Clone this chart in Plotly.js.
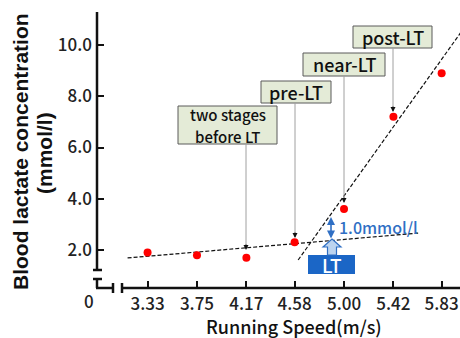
<!DOCTYPE html>
<html>
<head>
<meta charset="utf-8">
<script src="https://cdn.plot.ly/plotly-3.0.1.min.js"></script>
<style>html,body{margin:0;padding:0;background:#fff;}#chart{width:460px;height:338px;}</style>
</head>
<body>
<div id="chart"></div>
<script>
// ---- data ----
const speeds = [3.33, 3.75, 4.17, 4.58, 5.00, 5.42, 5.83];
const speedLabels = ['3.33', '3.75', '4.17', '4.58', '5.00', '5.42', '5.83'];
const lactate = [1.9, 1.8, 1.7, 2.3, 3.6, 7.2, 8.9];
const yTickVals = [2, 4, 6, 8, 10];
const yTickLabels = ['2.0', '4.0', '6.0', '8.0', '10.0'];
const lowFitX = [3.16, 5.63];
const lowFitY = [1.69, 2.66];
const highFitX = [4.61, 5.99];
const highFitY = [1.61, 10.47];
const stageLabels = [['two stages', 'before LT'], ['pre-LT'], ['near-LT'], ['post-LT']];
const stageIndex = [2, 3, 4, 5];
const ltLabel = 'LT';
const deltaLabel = '1.0mmol/l';

// ---- layout helpers (pixel -> paper) ----
const W = 460, H = 338, L = 97, R = 460, T = 12, B = 288;
const fx = p => (p - L) / (R - L);
const fy = p => (B - p) / (B - T);
const font = 'Noto Sans CJK JP, Noto Sans, sans-serif';

const shapes = [];
const annotations = [];
const axisLine = (x0, y0, x1, y1) => shapes.push({type: 'line', xref: 'paper', yref: 'paper',
  x0: fx(x0), y0: fy(y0), x1: fx(x1), y1: fy(y1), line: {color: '#111', width: 2.5}, layer: 'above'});
// broken axes
axisLine(97, 12, 97, 270);
axisLine(93, 270, 102, 270);
axisLine(93, 279, 102, 279);
axisLine(97, 279, 97, 288);
axisLine(96, 288, 113, 288);
axisLine(113, 283, 113, 293);
axisLine(122, 283, 122, 293);
axisLine(122, 288, 460, 288);

annotations.push({xref: 'paper', yref: 'paper', x: fx(89), y: fy(300), text: '0', showarrow: false,
  font: {family: font, size: 17, color: '#222', weight: 500}, xanchor: 'center', yanchor: 'middle'});

// stage boxes (pixel geometry)
const boxes = [
  {x0: 178, x1: 277, y0: 106, y1: 144, lineX: 246, tip: 250, lines: [114.5, 136.5], size: 15},
  {x0: 261, x1: 331, y0: 81, y1: 103, lineX: 295, tip: 238, lines: [92], size: 18},
  {x0: 303, x1: 385, y0: 53, y1: 76, lineX: 344, tip: 203, lines: [64.5], size: 18},
  {x0: 353, x1: 432, y0: 26, y1: 48, lineX: 393, tip: 112, lines: [37], size: 18}
];
boxes.forEach((b, i) => {
  shapes.push({type: 'rect', xref: 'paper', yref: 'paper', x0: fx(b.x0), x1: fx(b.x1), y0: fy(b.y0), y1: fy(b.y1),
    fillcolor: '#e4ebd7', line: {color: '#5a5a5a', width: 1}, layer: 'above'});
  shapes.push({type: 'line', xref: 'paper', yref: 'paper', x0: fx(b.lineX), x1: fx(b.lineX), y0: fy(b.y1), y1: fy(b.tip - 5),
    line: {color: '#a0a0a0', width: 1}, layer: 'above'});
  annotations.push({xref: 'paper', yref: 'paper', x: fx(b.lineX), y: fy(b.tip), ax: 0, ay: -7,
    text: '', showarrow: true, arrowhead: 2, arrowsize: 1, arrowwidth: 1, arrowcolor: '#111'});
  stageLabels[i].forEach((t, j) => {
    annotations.push({xref: 'paper', yref: 'paper', x: fx((b.x0 + b.x1) / 2), y: fy(b.lines[j]), text: t,
      showarrow: false, xanchor: 'center', yanchor: 'middle',
      font: {family: font, size: b.size, color: '#111', weight: 500}});
  });
});

// LT box
shapes.push({type: 'rect', xref: 'paper', yref: 'paper', x0: fx(308), x1: fx(355), y0: fy(255), y1: fy(274),
  fillcolor: '#1b66c6', line: {width: 0}, layer: 'above'});
annotations.push({xref: 'paper', yref: 'paper', x: fx(331.5), y: fy(264.5), text: ltLabel, showarrow: false,
  xanchor: 'center', yanchor: 'middle', font: {family: font, size: 19, color: '#fff', weight: 500}});
// hollow up arrow
const pth = [[332, 239], [341, 247], [336.5, 247], [336.5, 255], [327.5, 255], [327.5, 247], [323, 247]];
shapes.push({type: 'path', xref: 'paper', yref: 'paper',
  path: 'M' + pth.map(p => fx(p[0]).toFixed(5) + ',' + fy(p[1]).toFixed(5)).join(' L') + ' Z',
  fillcolor: '#bcd4ef', line: {color: '#2f6fc4', width: 1.2}, layer: 'above'});
// double arrow
annotations.push({xref: 'paper', yref: 'paper', x: fx(331), y: fy(217), ax: 0, ay: 23, text: '',
  showarrow: true, arrowside: 'end+start', arrowhead: 2, arrowsize: 1, arrowwidth: 1.6, arrowcolor: '#2f6fc4'});
annotations.push({xref: 'paper', yref: 'paper', x: fx(337), y: fy(227), text: deltaLabel, showarrow: false,
  xanchor: 'left', yanchor: 'middle', font: {family: font, size: 16, color: '#2f6fc4', weight: 500}});

// titles
annotations.push({xref: 'paper', yref: 'paper', x: fx(20), y: fy(152), text: 'Blood lactate concentration',
  textangle: -90, showarrow: false, xanchor: 'center', yanchor: 'middle',
  font: {family: 'Liberation Sans, Arial, sans-serif', size: 21, color: '#111', weight: 'bold'}});
annotations.push({xref: 'paper', yref: 'paper', x: fx(44), y: fy(153), text: '(mmol/l)',
  textangle: -90, showarrow: false, xanchor: 'center', yanchor: 'middle',
  font: {family: 'Liberation Sans, Arial, sans-serif', size: 21, color: '#111', weight: 'bold'}});
annotations.push({xref: 'paper', yref: 'paper', x: fx(294), y: fy(326), text: 'Running Speed(m/s)',
  showarrow: false, xanchor: 'center', yanchor: 'middle',
  font: {family: font, size: 18, color: '#111', weight: 500}});

const traces = [
  {x: lowFitX, y: lowFitY, mode: 'lines', line: {color: '#111', width: 1.2, dash: '4px,2px'}, hoverinfo: 'skip'},
  {x: highFitX, y: highFitY, mode: 'lines', line: {color: '#111', width: 1.2, dash: '4px,2px'}, hoverinfo: 'skip'},
  {x: speeds, y: lactate, mode: 'markers', marker: {color: '#ff0000', size: 8}}
];

const layout = {
  width: W, height: H,
  margin: {l: L, r: W - R, t: T, b: H - B, pad: 0},
  paper_bgcolor: '#fff', plot_bgcolor: 'rgba(0,0,0,0)',
  showlegend: false,
  xaxis: {range: [2.9, 5.986], tickvals: speeds, ticktext: speedLabels, ticks: 'inside', ticklen: 7,
    tickwidth: 2, tickcolor: '#111', showline: false, showgrid: false, zeroline: false,
    tickfont: {family: font, size: 17, color: '#222', weight: 500}, ticklabelstandoff: 4},
  yaxis: {range: [0.518, 11.288], tickvals: yTickVals, ticktext: yTickLabels, ticks: 'inside', ticklen: 7,
    tickwidth: 2, tickcolor: '#111', showline: false, showgrid: false, zeroline: false,
    tickfont: {family: font, size: 17, color: '#222', weight: 500}, ticklabelstandoff: 4},
  shapes: shapes,
  annotations: annotations
};

Plotly.newPlot('chart', traces, layout, {displayModeBar: false, staticPlot: true});
</script>
</body>
</html>
